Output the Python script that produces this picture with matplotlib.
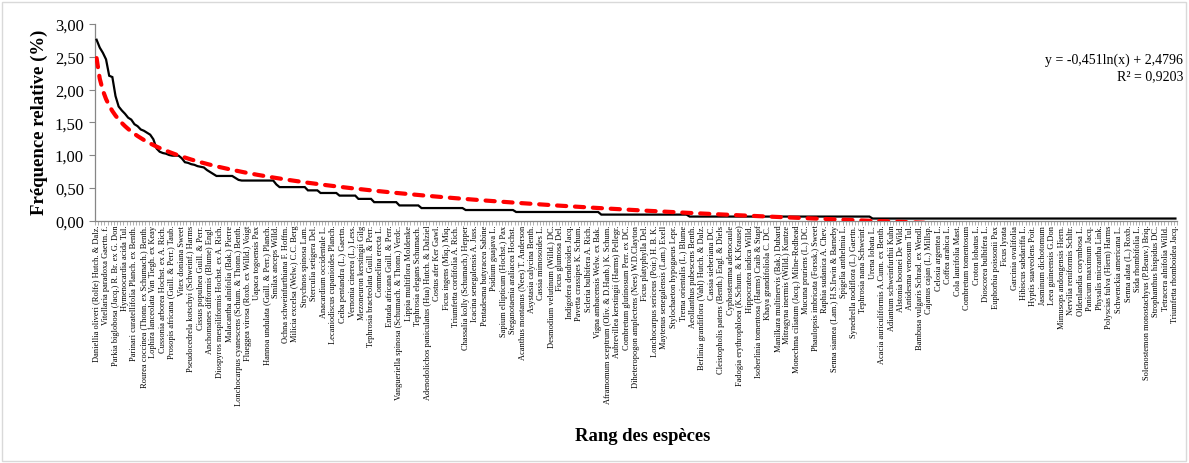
import numpy as np
import matplotlib
matplotlib.use("Agg")
import matplotlib.pyplot as plt
from matplotlib.patches import Rectangle

plt.rcParams["font.family"] = ["Liberation Serif", "DejaVu Serif"]

# Relative frequency (%) of each species, ordered by rank
head_freq = [2.76, 2.64, 2.56, 2.46, 2.21, 2.19, 1.90, 1.74, 1.68, 1.63,
             1.57, 1.54, 1.47, 1.44, 1.39, 1.37, 1.34, 1.31, 1.24, 1.10,
             1.05, 1.03, 1.02, 1.00, 0.99, 0.99, 0.99, 0.95, 0.89, 0.88,
             0.86, 0.85, 0.83, 0.82, 0.81, 0.77, 0.74, 0.71, 0.68, 0.68,
             0.68, 0.68, 0.68, 0.68, 0.65, 0.62]
# tail of the distribution: (frequency, number of species sharing it)
tail_levels = [0.61, 0.55, 0.51, 0.46, 0.42, 0.38, 0.33, 0.28, 0.23,
               0.19, 0.16, 0.13, 0.09, 0.06, 0.03]
tail_counts = [11, 1, 9, 4, 6, 6, 5, 8, 7, 14, 16, 27, 28, 58, 97]

rel_freq = np.array(head_freq + [v for v, n in zip(tail_levels, tail_counts)
                                 for _ in range(n)])
ranks = np.arange(1, len(rel_freq) + 1)

# Logarithmic trend line
trend_a = -0.451
trend_b = 2.4796
r_squared = 0.9203

# Species names shown on the axis (one every three ranks)
label_step = 3
species_labels = [
    "Daniellia oliveri (Rolfe) Hutch. & Dalz.",
    "Vitellaria paradoxa Gaertn. f.",
    "Parkia biglobosa (Jacq.) R. Br. ex G. Don",
    "Hymenocardia acida Tul.",
    "Parinari curatellifolia Planch. ex Benth.",
    "Rourea coccinea (Thonn. ex Schumach.) Benth.",
    "Lophira lanceolata Van Tiegh. ex Keay",
    "Cussonia arborea Hochst. ex A. Rich.",
    "Prosopis africana (Guill. & Perr.) Taub.",
    "Vitex doniana Sweet",
    "Pseudocedrela kotschyi (Schweinf.) Harms",
    "Cissus populnea Guill. & Perr.",
    "Anchomanes difformis (Blume) Engl.",
    "Diospyros mespiliformis Hochst. ex A. Rich.",
    "Malacantha alnifolia (Bak.) Pierre",
    "Lonchocarpus cyanescens (Schum. & Thonn.) Benth.",
    "Flueggea virosa (Roxb. ex Willd.) Voigt",
    "Uapaca togoensis Pax",
    "Hannoa undulata (Guill. & Perr.) Planch.",
    "Smilax anceps Willd.",
    "Ochna schweinfurthiana F. Hoffm.",
    "Milicia excelsa (Welw.) C.C. Berg",
    "Strychnos spinosa Lam.",
    "Sterculia setigera Del.",
    "Anacardium occidentale L.",
    "Lecaniodiscus cupanioides Planch.",
    "Ceiba pentandra (L.) Gaertn.",
    "Vernonia cinerea (L.) Less.",
    "Mezoneuron kerstingii Gilg",
    "Tephrosia bracteolata Guill. & Perr.",
    "Commelina erecta L.",
    "Entada africana Guill. & Perr.",
    "Vangueriella spinosa (Schumach. & Thonn.) Verdc.",
    "Lippia multiflora Moldenke",
    "Tephrosia elegans Schumach.",
    "Adenodolichos paniculatus (Hua) Hutch. & Dalziel",
    "Costus afer Ker Gawl.",
    "Ficus ingens (Miq.) Miq.",
    "Triumfetta cordifolia A. Rich.",
    "Chassalia kolly (Schumach.) Hepper",
    "Icacina senegalensis A. Juss.",
    "Pentadesma butyracea Sabine",
    "Psidium guajava L.",
    "Sapium ellipticum (Hochst.) Pax",
    "Steganotaenia araliacea Hochst.",
    "Acanthus montanus (Nees) T. Anderson",
    "Asystasia calycina Benth.",
    "Cassia mimosoides L.",
    "Desmodium velutinum (Willd.) DC.",
    "Ficus glumosa Del.",
    "Indigofera dendroides Jacq.",
    "Pavetta crassipes K. Schum.",
    "Scleria bulbifera A. Rich.",
    "Vigna ambacensis Welw. ex Bak.",
    "Aframomum sceptrum (Oliv. & D.Hanb.) K. Schum.",
    "Aubrevillea kerstingii (Harms) Pellegr.",
    "Combretum glutinosum Perr. ex DC.",
    "Diheteropogon amplectens (Nees) W.D.Clayton",
    "Ficus platyphylla Del.",
    "Lonchocarpus sericeus (Poir.) H. B. K.",
    "Maytenus senegalensis (Lam.) Exell",
    "Stylochaeton hypogaeus Lepr.",
    "Trema orientalis (L.) Blume",
    "Aeollanthus pubescens Benth.",
    "Berlinia grandiflora (Vahl) Hutch. & Dalz.",
    "Cassia sieberiana DC.",
    "Cleistopholis patens (Benth.) Engl. & Diels",
    "Cyphostemma adenocaule",
    "Fadogia erythrophloea (K.Schum. & K.Krause)",
    "Hippocratea indica Willd.",
    "Isoberlinia tomentosa (Harms) Craib & Stapf",
    "Khaya grandifoliola C. DC.",
    "Manilkara multinervis (Bak.) Dubard",
    "Mitragyna inermis (Willd.) Kuntze",
    "Monechma ciliatum (Jacq.) Milne-Redhead",
    "Mucuna pruriens (L.) DC.",
    "Phaulopsis imbricata (Forssk.) Sweet",
    "Raphia sudanica A. Chev.",
    "Senna siamea (Lam.) H.S.Irwin & Barneby",
    "Spigelia anthelmia L.",
    "Synedrella nodiflora (L.) Gaertn.",
    "Tephrosia nana Schweinf.",
    "Urena lobata L.",
    "Acacia auriculiformis A.Cunn. ex Benth.",
    "Adiantum schweinfurthii Kuhn",
    "Alstonia boonei De Wild.",
    "Antidesma venosum Tul.",
    "Bambusa vulgaris Schrad. ex Wendl.",
    "Cajanus cajan (L.) Millsp.",
    "Celosia argentea L.",
    "Coffea arabica L.",
    "Cola laurifolia Mast.",
    "Combretum tomentosum",
    "Croton lobatus L.",
    "Dioscorea bulbifera L.",
    "Euphorbia poissonii Pax",
    "Ficus lyrata",
    "Garcinia ovalifolia",
    "Hibiscus sabdariffa L.",
    "Hyptis suaveolens Poit.",
    "Jasminum dichotomum",
    "Leea guineensis G.Don",
    "Mimusops andongensis Hiern.",
    "Nervilia reniformis Schltr.",
    "Oldenlandia corymbosa L.",
    "Panicum maximum Jacq.",
    "Physalis micrantha Link.",
    "Polyscias fulva (Hiern) Harms",
    "Schwenckia americana L.",
    "Senna alata (L.) Roxb.",
    "Sida rhombifolia L.",
    "Solenostemon monostachyus (P.Beauv.) Briq.",
    "Strophanthus hispidus DC.",
    "Tetracera alnifolia Willd.",
    "Triumfetta rhomboidea Jacq.",
]

W, H = 1189, 464
fig = plt.figure(figsize=(W / 100, H / 100), dpi=100)
ax = fig.add_axes([95 / W, 1 - 221.5 / H, (1177 - 95) / W, (221.5 - 25) / H])

# observed frequencies
ax.plot(ranks, rel_freq, color="black", lw=1.6, zorder=3, solid_joinstyle="miter")

# fitted logarithmic trend
trend = trend_a * np.log(ranks) + trend_b
ax.plot(ranks, trend, color="#FF0000", lw=3.0, dashes=(2.2, 2.1),
        dash_capstyle="round", zorder=4)

ax.set_xlim(0.5, len(rel_freq) + 0.5)
ax.set_ylim(0, 3)

yt = np.arange(0, 3.01, 0.5)
ax.set_yticks(yt)
ax.set_yticklabels([f"{v:.2f}".replace(".", ",") for v in yt], fontsize=12)

label_pos = ranks[::label_step][:len(species_labels)]
ax.set_xticks(label_pos)
ax.set_xticklabels(species_labels, rotation=90, fontsize=6.0, va="top", ha="center")
ax.set_xticks(np.arange(0.5, len(rel_freq) + 1.0, 1.0), minor=True)
ax.tick_params(axis="x", which="major", length=0, pad=3)
ax.tick_params(axis="x", which="minor", length=3, width=0.6, color="#A6A6A6")
ax.tick_params(axis="y", length=4, width=0.8, color="#868686", pad=4)

for side in ("top", "right"):
    ax.spines[side].set_visible(False)
for side in ("left", "bottom"):
    ax.spines[side].set_color("#868686")
    ax.spines[side].set_linewidth(0.9)

fig.text(39 / W, 1 - 122 / H, "Fréquence relative (%)", fontsize=13.5,
         fontweight="bold", rotation=90, ha="center", va="center")
fig.text(643 / W, 1 - 437 / H, "Rang des espèces", fontsize=13.4, fontweight="bold",
         ha="center", va="center")

eq = f"y = {trend_a:.3f}ln(x) + {trend_b:.4f}".replace(".", ",")
fig.text(1183 / W, 1 - 60 / H, eq, fontsize=10, ha="right", va="center")
fig.text(1183 / W, 1 - 77 / H, f"R² = {r_squared:.4f}".replace(".", ","),
         fontsize=10, ha="right", va="center")

fig.patches.append(Rectangle((2 / W, 2 / H), (W - 5) / W, (H - 5) / H,
                             transform=fig.transFigure, fill=False,
                             edgecolor="#D9D9D9", lw=1.0))

fig.savefig("out.png", dpi=100)
